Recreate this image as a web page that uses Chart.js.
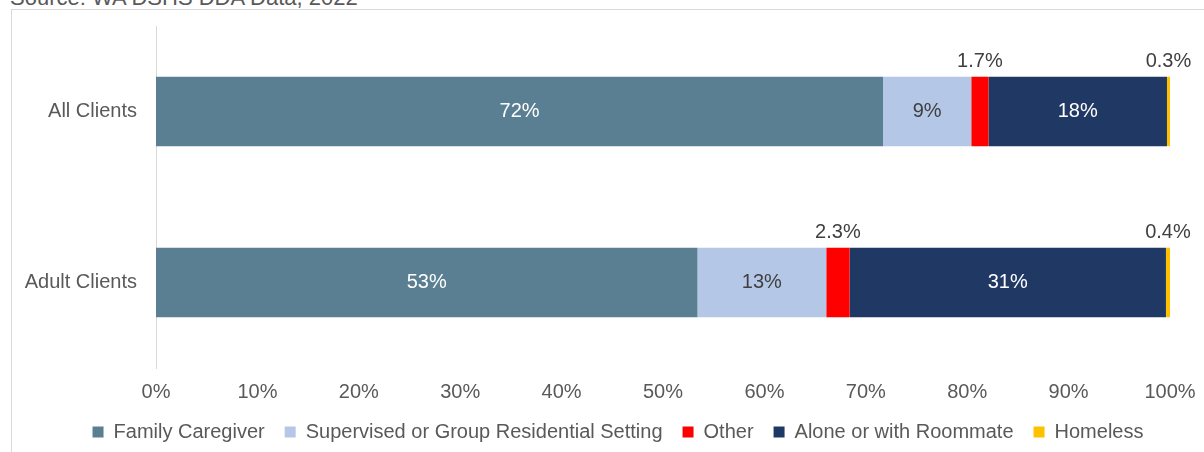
<!DOCTYPE html>
<html><head><meta charset="utf-8">
<script src="https://cdn.jsdelivr.net/npm/chart.js@4"></script>
<style>
html,body{margin:0;padding:0;background:#fff;overflow:hidden}
#wrap{position:relative;width:1204px;height:452px;overflow:hidden;background:#fff}
#frame{position:absolute;left:11px;top:9px;width:1300px;height:600px;border-left:1px solid #d9d9d9;border-top:1px solid #d9d9d9}
#src{position:absolute;left:10px;top:-12px;font-family:"Liberation Sans";font-size:22px;line-height:20px;color:#595959;white-space:nowrap}
canvas{position:absolute;left:0;top:0}
</style></head>
<body><div id="wrap"><div id="frame"></div><div id="src">Source: WA DSHS DDA Data, 2022</div><canvas id="c" width="1204" height="452" style="width:1204px;height:452px"></canvas></div>
<script>
const categories = ['All Clients', 'Adult Clients'];
const seriesNames = ['Family Caregiver', 'Supervised or Group Residential Setting', 'Other', 'Alone or with Roommate', 'Homeless'];
const familyCaregiver = [71.7, 53.4];
const supervisedGroup = [8.7, 12.7];
const otherSetting = [1.7, 2.3];
const aloneRoommate = [17.6, 31.2];
const homeless = [0.3, 0.4];
const xTickValues = [0, 10, 20, 30, 40, 50, 60, 70, 80, 90, 100];

const seriesColors = ['#5B7F92', '#B4C7E7', '#FF0000', '#203864', '#FFC000'];
const labelColors = ['#ffffff', '#404040', '#404040', '#ffffff', '#404040'];
const labelAbove = [false, false, true, false, true];
const FONT = '"Liberation Sans"';

function fmt(v) { return v < 5 ? v.toFixed(1) + '%' : Math.round(v) + '%'; }

const seriesData = [familyCaregiver, supervisedGroup, otherSetting, aloneRoommate, homeless];

const valueLabels = {
  id: 'valueLabels',
  afterDatasetsDraw(chart) {
    const ctx = chart.ctx;
    ctx.save();
    ctx.font = '20px ' + FONT;
    ctx.textAlign = 'center';
    ctx.textBaseline = 'middle';
    chart.data.datasets.forEach((ds, di) => {
      const meta = chart.getDatasetMeta(di);
      meta.data.forEach((bar, i) => {
        const txt = fmt(ds.data[i]);
        const cx = (bar.x + bar.base) / 2;
        ctx.fillStyle = labelColors[di];
        if (labelAbove[di]) {
          ctx.fillText(txt, cx, bar.y - bar.height / 2 - 15);
        } else {
          ctx.fillText(txt, cx, bar.y);
        }
      });
    });
    ctx.restore();
  }
};

const legendShift = {
  id: 'legendShift',
  afterLayout(chart) {
    if (chart.legend) chart.legend.left += 66;
  }
};

new Chart(document.getElementById('c'), {
  type: 'bar',
  data: {
    labels: categories,
    datasets: seriesNames.map((name, i) => ({
      label: name,
      data: seriesData[i],
      backgroundColor: seriesColors[i],
      borderWidth: 0,
      categoryPercentage: 1,
      barPercentage: 0.406
    }))
  },
  options: {
    indexAxis: 'y',
    responsive: false,
    animation: false,
    layout: { padding: { left: 0, right: 34, top: 26, bottom: 0 } },
    scales: {
      x: {
        stacked: true,
        min: 0, max: 100,
        afterBuildTicks(scale) { scale.ticks = xTickValues.map(v => ({ value: v })); },
        afterFit(scale) { scale.height = 34; scale.paddingLeft = 0; scale.paddingRight = 0; },
        grid: { display: false, drawTicks: false },
        border: { display: false },
        ticks: { padding: 12, color: '#595959', font: { family: FONT, size: 20 }, maxRotation: 0, callback: v => v + '%' }
      },
      y: {
        stacked: true,
        afterFit(scale) { scale.width = 156; scale.paddingTop = 0; scale.paddingBottom = 0; },
        grid: { display: false, drawTicks: false },
        border: { display: true, color: '#d9d9d9', width: 1 },
        ticks: { padding: 19, color: '#595959', font: { family: FONT, size: 20 } }
      }
    },
    plugins: {
      legend: {
        position: 'bottom',
        labels: { boxWidth: 11, boxHeight: 11, padding: 20, color: '#595959', font: { family: FONT, size: 20 } }
      },
      tooltip: { enabled: false }
    }
  },
  plugins: [valueLabels, legendShift]
});
</script>
</body></html>
